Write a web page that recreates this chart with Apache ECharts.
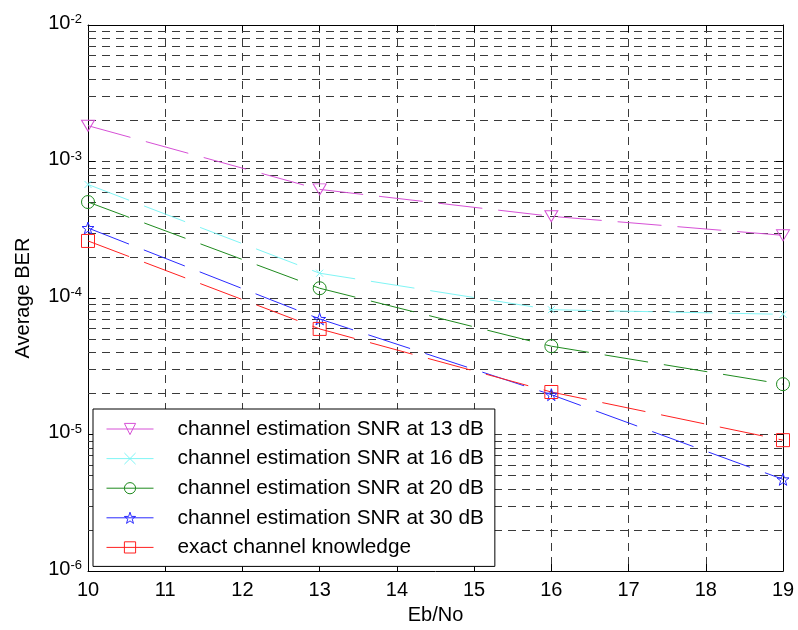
<!DOCTYPE html>
<html>
<head>
<meta charset="utf-8">
<title>Average BER vs Eb/No</title>
<script src="https://cdn.jsdelivr.net/npm/echarts@6/dist/echarts.min.js"></script>
<style>
  html, body { margin: 0; padding: 0; background: #fff; }
  #chart { width: 798px; height: 630px; }
</style>
</head>
<body>
<div id="chart"></div>
<script>
// Eb/No sample points (dB)
const ebNo = [10, 13, 16, 19];

// Average BER for each curve
const snr13 = [1.83e-3, 6.25e-4, 3.97e-4, 2.88e-4];
const snr16 = [6.79e-4, 1.52e-4, 8.22e-5, 7.60e-5];
const snr20 = [5.05e-4, 1.18e-4, 4.44e-5, 2.34e-5];
const snr30 = [3.26e-4, 7.03e-5, 1.96e-5, 4.70e-6];
const exact = [2.62e-4, 5.94e-5, 2.05e-5, 9.10e-6];

const seriesNames = [
  'channel estimation SNR at 13 dB',
  'channel estimation SNR at 16 dB',
  'channel estimation SNR at 20 dB',
  'channel estimation SNR at 30 dB',
  'exact channel knowledge'
];

// Axis ranges
const xMin = 10, xMax = 19;
const yMin = 1e-6, yMax = 1e-2;

// Minor log grid lines: mantissas 2..9 in each decade
const minorMantissas = [2, 3, 4, 5, 6, 7, 8, 9];
const decades = [1e-6, 1e-5, 1e-4, 1e-3];

const FONT = '"Liberation Sans", Arial, Helvetica, sans-serif';
const GRID_COLOR = '#3a3a3a';
const GRID_DASH = [8, 6];

const starPath = 'path://M0,-10 L2.35,-3.24 L9.51,-3.09 L3.8,1.24 L5.88,8.09 L0,4 L-5.88,8.09 L-3.8,1.24 L-9.51,-3.09 L-2.35,-3.24 Z';
const crossPath = 'path://M-1,-1 L1,1 M-1,1 L1,-1';

function pairs(ys) { return ebNo.map((x, i) => [x, ys[i]]); }

// each minor grid line spans the full x range at one BER value
const minorLines = [];
decades.forEach(d => minorMantissas.forEach(m => {
  const v = m * d;
  minorLines.push([{ coord: [xMin, v] }, { coord: [xMax, v] }]);
}));

function curve(name, ys, color, symbol, size, extra) {
  return Object.assign({
    name: name,
    type: 'line',
    data: pairs(ys),
    z: 3,
    symbol: symbol,
    symbolSize: size,
    showAllSymbol: true,
    lineStyle: { color: color, width: 1, type: [44, 16] },
    itemStyle: { color: 'rgba(0,0,0,0)', borderColor: color, borderWidth: 1 },
    emphasis: { disabled: true },
    animation: false
  }, extra || {});
}

const chart = echarts.init(document.getElementById('chart'), null, { renderer: 'canvas' });

chart.setOption({
  backgroundColor: '#fff',
  textStyle: { fontFamily: FONT },
  grid: { left: 88, right: 15, top: 25, bottom: 57, containLabel: false },
  xAxis: [{
    type: 'value', min: xMin, max: xMax, interval: 1,
    name: 'Eb/No', nameLocation: 'middle', nameGap: 30,
    nameTextStyle: { fontSize: 20, color: '#000', fontFamily: FONT },
    axisLine: { show: true, onZero: false, lineStyle: { color: '#000', width: 1 } },
    axisTick: { show: true, inside: true, length: 7, lineStyle: { color: '#000' } },
    axisLabel: { fontSize: 20, color: '#000', margin: 9, fontFamily: FONT },
    splitLine: { show: true, lineStyle: { color: GRID_COLOR, type: GRID_DASH, width: 1 } }
  }, {
    type: 'value', min: xMin, max: xMax, interval: 1, position: 'top',
    axisLine: { show: true, onZero: false, lineStyle: { color: '#000', width: 1 } },
    axisTick: { show: true, inside: true, length: 7, lineStyle: { color: '#000' } },
    axisLabel: { show: false },
    splitLine: { show: false }
  }],
  yAxis: [{
    type: 'log', logBase: 10, min: yMin, max: yMax,
    name: 'Average BER', nameLocation: 'middle', nameGap: 55,
    nameTextStyle: { fontSize: 20, color: '#000', fontFamily: FONT },
    axisLine: { show: true, onZero: false, lineStyle: { color: '#000', width: 1 } },
    axisTick: { show: true, inside: true, length: 7, lineStyle: { color: '#000' } },
    axisLabel: {
      margin: 6, color: '#000', padding: [0, 0, 4, 0],
      formatter: v => '{b|10}{s|' + Math.round(Math.log10(v)) + '}',
      rich: {
        b: { fontSize: 20, lineHeight: 20, fontFamily: FONT, color: '#000', verticalAlign: 'bottom' },
        s: { fontSize: 13, lineHeight: 13, fontFamily: FONT, color: '#000', verticalAlign: 'top', padding: [0, 0, 12, 0] }
      }
    },
    splitLine: { show: true, lineStyle: { color: GRID_COLOR, type: GRID_DASH, width: 1 } }
  }, {
    type: 'log', logBase: 10, min: yMin, max: yMax, position: 'right',
    axisLine: { show: true, onZero: false, lineStyle: { color: '#000', width: 1 } },
    axisTick: { show: true, inside: true, length: 7, lineStyle: { color: '#000' } },
    axisLabel: { show: false },
    splitLine: { show: false }
  }],
  legend: {
    data: seriesNames,
    orient: 'vertical',
    left: 93, top: 409,
    z: 20,
    padding: [8, 11, 7, 13],
    itemGap: 5.6,
    itemWidth: 47,
    itemHeight: 14,
    backgroundColor: '#fff',
    borderColor: '#000',
    borderWidth: 1,
    borderRadius: 0,
    selectedMode: false,
    itemStyle: { color: 'rgba(0,0,0,0)', borderWidth: 1 },
    lineStyle: { type: 'solid', width: 1 },
    textStyle: { fontSize: 20.8, lineHeight: 24, color: '#000', fontFamily: FONT, padding: [0, 0, 0, 19] }
  },
  series: [
    {
      // carrier for the dashed minor grid lines of the log axis
      name: 'minor-grid', type: 'line', data: pairs(snr13), z: 1,
      symbol: 'none', silent: true, animation: false,
      lineStyle: { opacity: 0 },
      markLine: {
        silent: true, symbol: ['none', 'none'], animation: false, z: 1,
        label: { show: false },
        lineStyle: { color: GRID_COLOR, type: GRID_DASH, width: 1 },
        emphasis: { disabled: true },
        data: minorLines
      }
    },
    curve(seriesNames[0], snr13, '#d650d6', 'triangle', [13, 11], { symbolRotate: 180 }),
    curve(seriesNames[1], snr16, '#7ff5f5', crossPath, 7),
    curve(seriesNames[2], snr20, '#1e8a1e', 'circle', 13),
    curve(seriesNames[3], snr30, '#2a2aff', starPath, 12),
    curve(seriesNames[4], exact, '#ff2020', 'rect', 13)
  ]
});
</script>
</body>
</html>
